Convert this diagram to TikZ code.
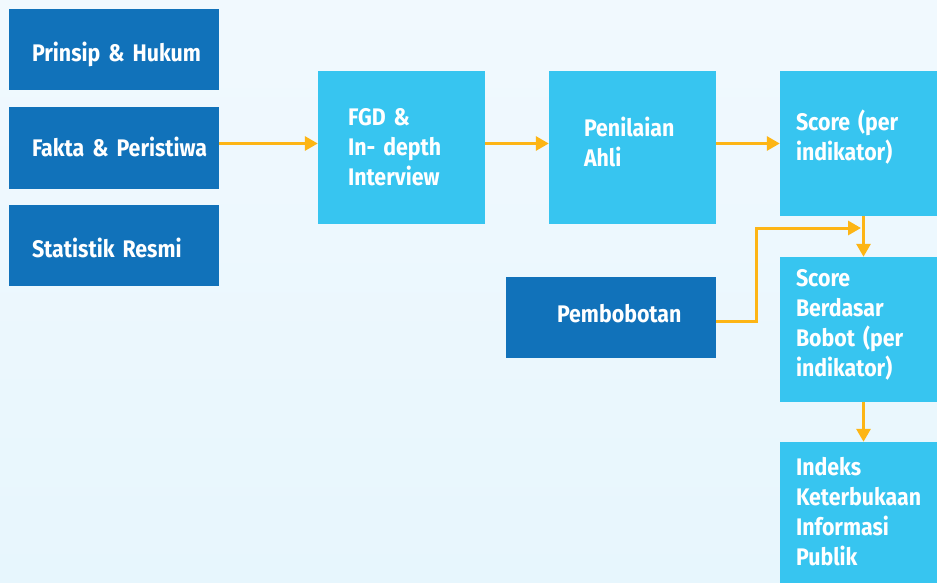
\documentclass[tikz,border=0pt]{standalone}
\usepackage{fontspec}
\newfontfamily\firafont{Fira Sans}[FakeStretch=0.89]
\usetikzlibrary{arrows.meta}
\definecolor{darkblue}{HTML}{1172BA}
\definecolor{lightblue}{HTML}{37C5F0}
\definecolor{amber}{HTML}{FDB515}
\definecolor{bgtop}{HTML}{F1F9FE}
\definecolor{bgbottom}{HTML}{E7F6FD}
\tikzset{
  box/.style={rectangle, text=white, align=left, inner ysep=0pt,
    text height=0pt, text depth=0pt,
    font=\firafont\bfseries\fontsize{24}{30}\selectfont},
  darkbox/.style={box, fill=darkblue},
  lightbox/.style={box, fill=lightblue},
  flow/.style={draw=amber, line width=3pt, -{Triangle[length=13pt,width=14pt]}}
}
\begin{document}
\begin{tikzpicture}[x=1pt,y=-1pt]
\useasboundingbox (0,0) rectangle (937,583);
\clip (0,0) rectangle (937,583);
\shade[top color=bgtop, bottom color=bgbottom] (0,0) rectangle (937,583);
% sources
\node[darkbox, inner xsep=23pt, text width=164pt, minimum height=81pt, text height=24pt] (prinsip) at (114,49.5) {\mbox{Prinsip \& Hukum}};
\node[darkbox, inner xsep=23pt, text width=164pt, minimum height=81pt, text height=17pt] (fakta) at (114,148) {\mbox{Fakta \& Peristiwa}};
\node[darkbox, inner xsep=23pt, text width=164pt, minimum height=81pt, text height=24.5pt] (statistik) at (114,245) {\mbox{Statistik Resmi}};
% process
\node[lightbox, inner xsep=30pt, text width=107pt, minimum height=153pt, text depth=43.5pt] (fgd) at (401.5,147.5) {FGD \&\\In- depth\\Interview};
\node[lightbox, inner xsep=35pt, text width=97pt, minimum height=153pt, text depth=23pt] (penilaian) at (632.5,147.5) {Penilaian\\Ahli};
\node[lightbox, inner xsep=16pt, text width=135pt, minimum height=145pt, text depth=25.5pt] (score) at (863.5,143.5) {Score (per\\indikator)};
\node[darkbox, inner xsep=51pt, text width=108pt, minimum height=81pt, text height=11.5pt] (pembobotan) at (611,317) {Pembobotan};
\node[lightbox, inner xsep=16pt, text width=135pt, minimum height=145pt, text depth=85.5pt] (berdasar) at (863.5,329.5) {Score\\Berdasar\\Bobot (per\\indikator)};
\node[lightbox, inner xsep=16pt, text width=135pt, minimum height=145pt, text depth=79pt] (indeks) at (863.5,514.5) {Indeks\\Keterbukaan\\Informasi\\Publik};
% arrows
\coordinate (bend) at (756,228);
\coordinate (join) at (861,228);
\draw[flow] (fakta.east |- score.west) -- (fgd.west |- score.west);
\draw[flow] (fgd.east |- score.west) -- (penilaian.west |- score.west);
\draw[flow] (penilaian.east |- score.west) -- (score.west);
\draw[flow] (score.south) -- (berdasar.north);
\draw[flow] ([yshift=-4pt]pembobotan.east) -| (bend) -- (join);
\draw[flow] (berdasar.south) -- (indeks.north);
\end{tikzpicture}
\end{document}
